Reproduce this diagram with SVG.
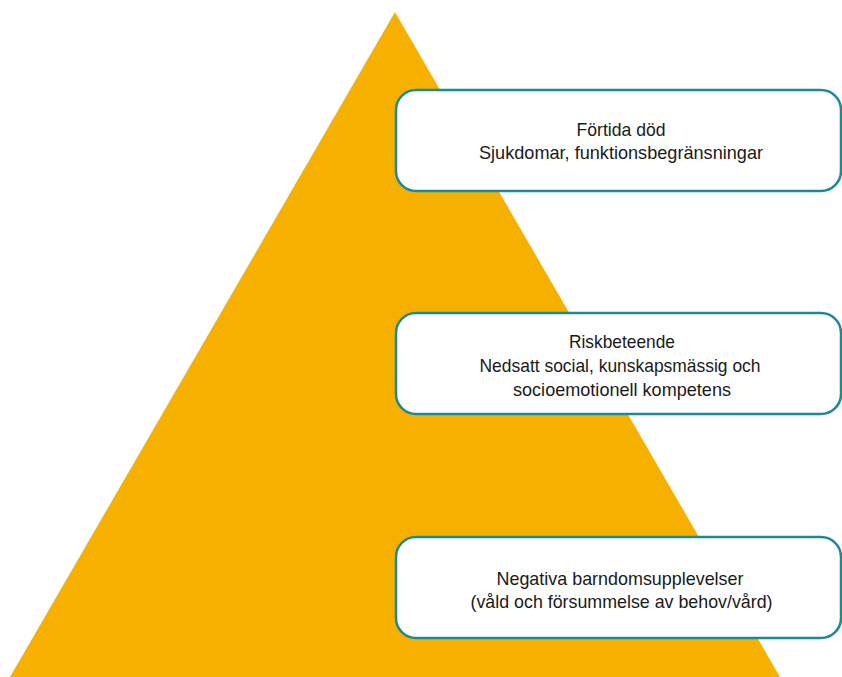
<svg xmlns="http://www.w3.org/2000/svg" width="842" height="677" viewBox="0 0 842 677">
  <style>
    .box { fill: #ffffff; stroke: #1a8a99; stroke-width: 2.5; }
    .lbl { font-family: "Liberation Sans", "DejaVu Sans Condensed", sans-serif; font-size: 19px; fill: #1a1a1a; text-anchor: middle; }
  </style>
  <rect width="842" height="677" fill="#ffffff"/>
  <!-- pyramid -->
  <polygon id="pyramid" points="395,12 780,677 10,677" fill="#f6b100"/>
  <g id="connectors"/>
  <!-- levels, top to bottom -->
  <g id="level-top">
    <rect class="box" x="396" y="90" width="445" height="101" rx="20"/>
    <text class="lbl" x="621" y="136" textLength="89" lengthAdjust="spacingAndGlyphs">Förtida död</text>
    <text class="lbl" x="621" y="159" textLength="284" lengthAdjust="spacingAndGlyphs">Sjukdomar, funktionsbegränsningar</text>
  </g>
  <g id="level-middle">
    <rect class="box" x="396" y="313" width="445" height="101" rx="20"/>
    <text class="lbl" x="622" y="348" textLength="106" lengthAdjust="spacingAndGlyphs">Riskbeteende</text>
    <text class="lbl" x="620" y="372" textLength="281" lengthAdjust="spacingAndGlyphs">Nedsatt social, kunskapsmässig och</text>
    <text class="lbl" x="622" y="396" textLength="218" lengthAdjust="spacingAndGlyphs">socioemotionell kompetens</text>
  </g>
  <g id="level-bottom">
    <rect class="box" x="396" y="537" width="445" height="101" rx="20"/>
    <text class="lbl" x="620" y="585" textLength="247" lengthAdjust="spacingAndGlyphs">Negativa barndomsupplevelser</text>
    <text class="lbl" x="621.5" y="608" textLength="302" lengthAdjust="spacingAndGlyphs">(våld och försummelse av behov/vård)</text>
  </g>
</svg>
